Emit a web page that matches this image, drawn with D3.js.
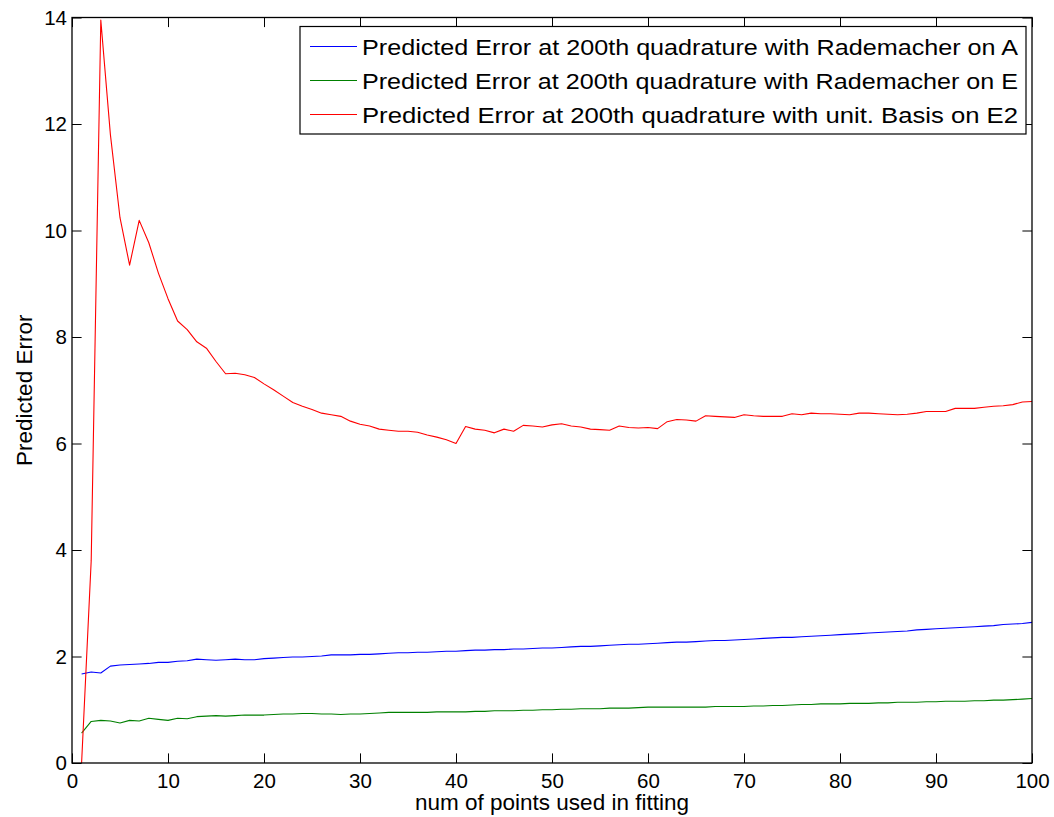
<!DOCTYPE html>
<html>
<head>
<meta charset="utf-8">
<script src="https://cdn.jsdelivr.net/npm/d3@7"></script>
<style>
  html, body { margin: 0; padding: 0; background: #fff; }
  svg { display: block; font-family: "Liberation Sans", Arial, Helvetica, sans-serif; }
</style>
</head>
<body>
<svg id="chart" width="1054" height="817"></svg>
<script>
// ---------- data ----------
const xValues = d3.range(1, 101);

const seriesA = [1.67,1.71,1.69,1.82,1.84,1.85,1.86,1.87,1.89,1.89,
  1.91,1.92,1.95,1.94,1.93,1.94,1.95,1.94,1.94,1.96,
  1.97,1.98,1.99,1.99,2.00,2.01,2.03,2.03,2.03,2.04,
  2.04,2.05,2.06,2.07,2.07,2.08,2.08,2.09,2.10,2.10,
  2.11,2.12,2.12,2.13,2.13,2.14,2.14,2.15,2.16,2.16,
  2.17,2.18,2.19,2.19,2.20,2.21,2.22,2.23,2.23,2.24,
  2.25,2.26,2.27,2.27,2.28,2.29,2.30,2.30,2.31,2.32,
  2.33,2.34,2.35,2.36,2.36,2.37,2.38,2.39,2.40,2.41,
  2.42,2.43,2.44,2.45,2.46,2.47,2.48,2.50,2.51,2.52,
  2.53,2.54,2.55,2.56,2.57,2.58,2.60,2.61,2.62,2.64];

const seriesE = [0.56,0.78,0.80,0.79,0.75,0.80,0.79,0.84,0.82,0.80,
  0.84,0.83,0.87,0.88,0.89,0.88,0.89,0.90,0.90,0.90,
  0.91,0.92,0.92,0.93,0.93,0.92,0.92,0.91,0.92,0.92,
  0.93,0.94,0.95,0.95,0.95,0.95,0.95,0.96,0.96,0.96,
  0.96,0.97,0.97,0.98,0.98,0.98,0.99,0.99,1.00,1.00,
  1.01,1.01,1.02,1.02,1.02,1.03,1.03,1.03,1.04,1.05,
  1.05,1.05,1.05,1.05,1.05,1.05,1.06,1.06,1.06,1.06,
  1.07,1.07,1.08,1.08,1.09,1.10,1.10,1.11,1.11,1.11,
  1.12,1.12,1.12,1.13,1.13,1.14,1.14,1.14,1.15,1.15,
  1.16,1.16,1.16,1.17,1.17,1.18,1.18,1.19,1.20,1.21];

const seriesE2 = [0,3.8,13.95,11.8,10.24,9.35,10.19,9.77,9.2,8.72,
  8.30,8.14,7.91,7.79,7.54,7.31,7.32,7.29,7.24,7.12,
  7.01,6.89,6.77,6.70,6.64,6.57,6.54,6.51,6.42,6.36,
  6.33,6.27,6.25,6.23,6.23,6.21,6.16,6.12,6.07,6.00,
  6.32,6.27,6.25,6.20,6.27,6.23,6.34,6.33,6.31,6.35,
  6.37,6.33,6.31,6.27,6.26,6.25,6.33,6.30,6.29,6.30,
  6.28,6.41,6.45,6.44,6.42,6.52,6.51,6.50,6.49,6.54,
  6.52,6.51,6.51,6.51,6.56,6.54,6.57,6.56,6.56,6.55,
  6.54,6.57,6.57,6.56,6.55,6.54,6.55,6.57,6.60,6.60,
  6.60,6.66,6.66,6.66,6.68,6.70,6.71,6.73,6.78,6.79];

const seriesNames = [
  "Predicted Error at 200th quadrature with Rademacher on A",
  "Predicted Error at 200th quadrature with Rademacher on E",
  "Predicted Error at 200th quadrature with unit. Basis on E2"
];
const seriesColors = ["#0000ff", "#008000", "#ff0000"];

const xTicks = [0,10,20,30,40,50,60,70,80,90,100];
const yTicks = [0,2,4,6,8,10,12,14];
const xLabel = "num of points used in fitting";
const yLabel = "Predicted Error";

// ---------- layout ----------
const svg = d3.select("#chart");
const L = 72, R = 1032, T = 17.5, B = 763;
const x = d3.scaleLinear().domain([0, 100]).range([L, R]);
const y = d3.scaleLinear().domain([0, 14]).range([B, T]);
const tickLen = 9.6;
const tickFont = 20.5;
const labelFont = 22.5;
const legendFont = 22.5;

// clip
svg.append("defs").append("clipPath").attr("id", "plotclip")
  .append("rect").attr("x", L).attr("y", T).attr("width", R - L).attr("height", B - T);

// lines
const allSeries = [seriesA, seriesE, seriesE2];
const line = d3.line().x((d, i) => x(xValues[i])).y(d => y(d));
const plot = svg.append("g").attr("clip-path", "url(#plotclip)");
allSeries.forEach((s, k) => {
  plot.append("path").datum(s)
    .attr("d", line)
    .attr("fill", "none")
    .attr("stroke", seriesColors[k])
    .attr("stroke-width", 1.1)
    .attr("stroke-linejoin", "round");
});

// axes (inward ticks on all four sides)
const axisStyle = g => {
  g.select(".domain").remove();
  g.selectAll(".tick line").attr("stroke", "#000").attr("stroke-width", 1);
  g.selectAll(".tick text").attr("fill", "#000").attr("font-size", tickFont)
    .attr("font-family", '"Liberation Sans", Arial, Helvetica, sans-serif');
};

svg.append("g").attr("transform", `translate(0,${B})`)
  .call(d3.axisBottom(x).tickValues(xTicks).tickFormat(d3.format("d"))
    .tickSizeInner(-tickLen).tickSizeOuter(0).tickPadding(10))
  .call(axisStyle);
svg.append("g").attr("transform", `translate(0,${T})`)
  .call(d3.axisTop(x).tickValues(xTicks).tickFormat("")
    .tickSizeInner(-tickLen).tickSizeOuter(0))
  .call(axisStyle);
svg.append("g").attr("transform", `translate(${L},0)`)
  .call(d3.axisLeft(y).tickValues(yTicks).tickFormat(d3.format("d"))
    .tickSizeInner(-tickLen).tickSizeOuter(0).tickPadding(5))
  .call(axisStyle);
svg.append("g").attr("transform", `translate(${R},0)`)
  .call(d3.axisRight(y).tickValues(yTicks).tickFormat("")
    .tickSizeInner(-tickLen).tickSizeOuter(0))
  .call(axisStyle);

// box
svg.append("rect").attr("x", L).attr("y", T).attr("width", R - L).attr("height", B - T)
  .attr("fill", "none").attr("stroke", "#000").attr("stroke-width", 1.3);

// axis labels
svg.append("text").attr("x", (L + R) / 2).attr("y", 810)
  .attr("text-anchor", "middle").attr("font-size", labelFont).attr("fill", "#000")
  .text(xLabel);
svg.append("text").attr("transform", `translate(32,${(T + B) / 2}) rotate(-90)`)
  .attr("text-anchor", "middle").attr("font-size", labelFont).attr("fill", "#000")
  .text(yLabel);

// legend
const lg = svg.append("g");
const lgX = 300, lgY = 26.5, lgW = 726, lgH = 107.5;
lg.append("rect").attr("x", lgX).attr("y", lgY).attr("width", lgW).attr("height", lgH)
  .attr("fill", "#fff").attr("stroke", "#000").attr("stroke-width", 1.2);
seriesNames.forEach((name, k) => {
  const cy = lgY + 20 + k * 34;
  lg.append("line").attr("x1", lgX + 10).attr("x2", lgX + 57)
    .attr("y1", cy).attr("y2", cy).attr("stroke", seriesColors[k]).attr("stroke-width", 1.1);
  lg.append("text").attr("x", lgX + 62).attr("y", cy).attr("dy", "0.36em")
    .attr("font-size", legendFont).attr("fill", "#000")
    .attr("textLength", 656).attr("lengthAdjust", "spacingAndGlyphs")
    .text(name);
});
</script>
</body>
</html>
